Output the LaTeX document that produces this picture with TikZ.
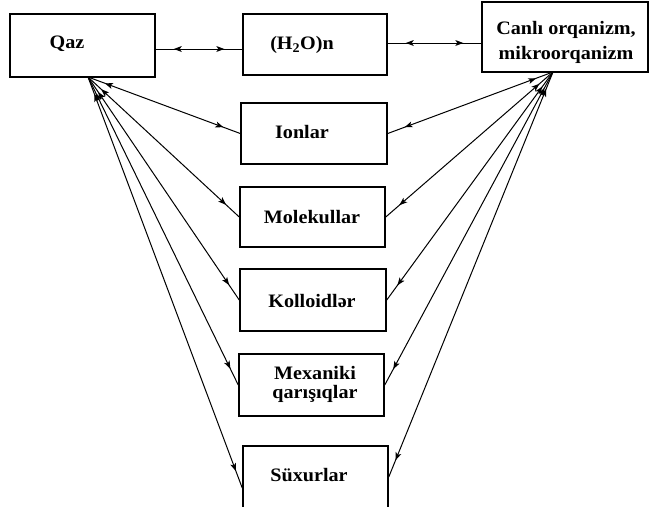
\documentclass[tikz,border=0pt]{standalone}
\usepackage{fontspec}
\setmainfont{Liberation Serif}
\newfontfamily\dfont[FakeStretch=1.06]{Liberation Serif}
\usetikzlibrary{arrows.meta,decorations.markings}
\tikzset{
  box/.style={draw, line width=1.5pt, inner sep=0pt},
  lbl/.style={inner sep=0pt, font=\dfont\bfseries\fontsize{19}{19}\selectfont, align=center},
  dblarr/.style={line width=1pt, postaction={decorate}, decoration={markings,
    mark=at position 22pt with {\fill (-4pt,0pt) -- (4pt,3pt) -- (2pt,0pt) -- (4pt,-3pt) -- cycle;},
    mark=at position -22pt with {\fill (4pt,0pt) -- (-4pt,3pt) -- (-2pt,0pt) -- (-4pt,-3pt) -- cycle;}}}
}
\begin{document}
\begin{tikzpicture}[x=1pt,y=-1pt]
\useasboundingbox (0,0) rectangle (650,506);
\clip (0,0) rectangle (650,506);
% boxes
\node[box, minimum width=145pt, minimum height=63pt] (qaz) at (82.5,45.5) {};
\node[box, minimum width=144pt, minimum height=61pt] (h2o) at (315,44.5) {};
\node[box, minimum width=166pt, minimum height=70pt] (canli) at (565,37) {};
\node[box, minimum width=146pt, minimum height=61pt] (ion) at (314,133.5) {};
\node[box, minimum width=145pt, minimum height=60pt] (mol) at (312.5,217) {};
\node[box, minimum width=146pt, minimum height=62pt] (kol) at (313,300) {};
\node[box, minimum width=145pt, minimum height=62pt] (mex) at (311.5,385) {};
\node[box, minimum width=145pt, minimum height=84pt] (sux) at (315.5,488) {};
% texts
\node[lbl] (tqaz) at (67,44) {Qaz};
\node[lbl] (th2o) at (302,45) {(H\textsubscript{2}O)n};
\node[lbl, font=\dfont\bfseries\fontsize{19}{25}\selectfont] (tcanli) at (566,42) {Canlı orqanizm,\\mikroorqanizm};
\node[lbl] (tion) at (302,132) {Ionlar};
\node[lbl] (tmol) at (312,217) {Molekullar};
\node[lbl] (tkol) at (312,301) {Kolloidlər};
\node[lbl, font=\dfont\bfseries\fontsize{19}{19}\selectfont] (tmex) at (315,384) {Mexaniki\\qarışıqlar};
\node[lbl] (tsux) at (309,475) {Süxurlar};
% connectors
\coordinate (q1) at ([yshift=-3.5pt]qaz.east);
\draw[dblarr] (q1) -- (q1 -| h2o.west);
\coordinate (h1) at ([yshift=1.5pt]h2o.east);
\draw[dblarr] (h1) -- (h1 -| canli.west);
\coordinate (qf) at (88,77);
\coordinate (cf) at (553,72);
\draw[dblarr] (qf) -- (ion.west);
\draw[dblarr] (qf) -- (mol.west);
\draw[dblarr] (qf) -- (kol.west);
\draw[dblarr] (qf) -- (mex.west);
\draw[dblarr] (qf) -- (sux.west);
\draw[dblarr] (ion.east) -- (cf);
\draw[dblarr] (mol.east) -- (cf);
\draw[dblarr] (kol.east) -- (cf);
\draw[dblarr] (mex.east) -- (cf);
\draw[dblarr] ([yshift=11pt]sux.east) -- (cf);
\end{tikzpicture}
\end{document}
